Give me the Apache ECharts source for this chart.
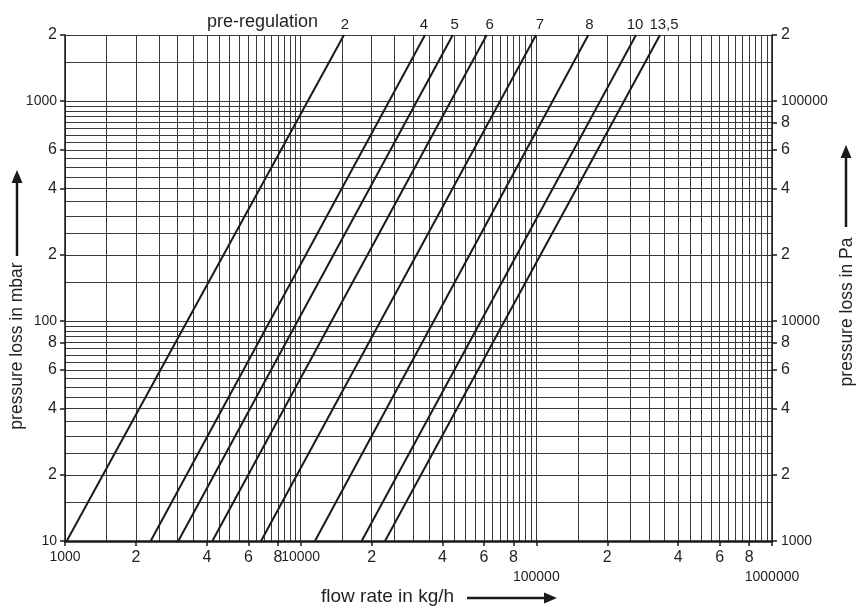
<!DOCTYPE html>
<html>
<head>
<meta charset="utf-8">
<script src="https://cdn.jsdelivr.net/npm/echarts@6/dist/echarts.min.js"></script>
<style>
  html, body { margin: 0; padding: 0; background: #fff; }
  #chart { width: 865px; height: 608px; }
</style>
</head>
<body>
<div id="chart"></div>
<script>
// pre-regulation curves: flow (kg/h) where each line meets 10 mbar and 2000 mbar
var settings = ["2", "4", "5", "6", "7", "8", "10", "13,5"];
var flowAt10 = [1017, 2310, 3025, 4220, 6790, 11500, 18150, 22800];
var flowAt2000 = [15270, 33700, 44200, 61560, 99700, 166200, 264800, 334700];
var pressureEnds = [10, 2000];

// labelled ticks
var flowTicks = [1000, 2000, 4000, 6000, 8000, 10000, 20000, 40000, 60000, 80000,
  100000, 200000, 400000, 600000, 800000, 1000000];
var mbarTicks = [10, 20, 40, 60, 80, 100, 200, 400, 600, 1000, 2000];
var paTicks = [10, 20, 40, 60, 80, 100, 200, 400, 600, 800, 1000, 2000]; // mbar, shown in Pa

// grid lines every half unit in each decade
var flowGrid = [];
[1000, 10000, 100000].forEach(function (d) {
  for (var m = 2; m < 20; m++) flowGrid.push(d * m / 2);
});
flowGrid.push(1000000);
var pressureGrid = [];
[10, 100].forEach(function (d) {
  for (var m = 2; m < 20; m++) pressureGrid.push(d * m / 2);
});
pressureGrid.push(1000, 1500, 2000);

var textColor = "#231f20";
var font = "Liberation Sans";
// small horizontal nudge of the setting labels above the line ends
var labelNudge = [1, -1, 2, 3, 4, 1, -1, 4];

function mant(v) {
  var e = Math.floor(Math.log10(v) + 1e-9);
  return Math.round(v / Math.pow(10, e));
}

var richLabels = {
  dec: { fontSize: 14, color: textColor, fontFamily: font },
  low: { fontSize: 14, color: textColor, fontFamily: font, padding: [20, 0, 0, 0] },
  d: { fontSize: 16, color: textColor, fontFamily: font }
};

var series = settings.map(function (name, i) {
  return {
    type: "line",
    name: name,
    xAxisIndex: 0,
    yAxisIndex: 0,
    symbol: "circle",
    symbolSize: 0,
    showSymbol: true,
    lineStyle: { color: "#1a1a1a", width: 2 },
    itemStyle: { color: "#1a1a1a" },
    data: [
      [flowAt10[i], pressureEnds[0]],
      {
        value: [flowAt2000[i], pressureEnds[1]],
        label: {
          show: true,
          formatter: name,
          position: "top",
          distance: 3,
          offset: [labelNudge[i], 0],
          fontSize: 15,
          fontFamily: font,
          color: textColor
        }
      }
    ]
  };
});

var chart = echarts.init(document.getElementById("chart"));
chart.setOption({
  animation: false,
  backgroundColor: "#fff",
  grid: { left: 65, right: 93, top: 35, bottom: 67, containLabel: false, outerBoundsMode: "none" },
  xAxis: [
    {
      type: "log", min: 1000, max: 1000000, position: "bottom",
      axisLine: { show: true, lineStyle: { color: "#1a1a1a", width: 2.5 } },
      axisTick: { show: true, length: 5, customValues: flowTicks, lineStyle: { color: "#1a1a1a", width: 1.5 } },
      axisLabel: {
        show: true, margin: 9, customValues: flowTicks, rich: richLabels,
        formatter: function (v) {
          var m = mant(v);
          if (m === 1) return v >= 100000 ? "{low|" + v + "}" : "{dec|" + v + "}";
          return "{d|" + m + "}";
        }
      },
      splitLine: { show: false },
      minorTick: { show: false }
    },
    {
      type: "log", min: 1000, max: 1000000, position: "top",
      axisLine: { show: false },
      axisTick: { show: false, customValues: flowGrid },
      axisLabel: { show: false },
      splitLine: { show: true, lineStyle: { color: "#3a3a3a", width: 1 } }
    }
  ],
  yAxis: [
    {
      type: "log", min: 10, max: 2000, position: "left",
      axisLine: { show: true, lineStyle: { color: "#1a1a1a", width: 1.5 } },
      axisTick: { show: true, length: 5, customValues: mbarTicks, lineStyle: { color: "#1a1a1a", width: 1.5 } },
      axisLabel: {
        show: true, margin: 8, customValues: mbarTicks, rich: richLabels,
        formatter: function (v) {
          var m = mant(v);
          return m === 1 ? "{dec|" + v + "}" : "{d|" + m + "}";
        }
      },
      splitLine: { show: false }
    },
    {
      type: "log", min: 10, max: 2000, position: "right",
      axisLine: { show: true, lineStyle: { color: "#1a1a1a", width: 1.5 } },
      axisTick: { show: true, length: 5, customValues: paTicks, lineStyle: { color: "#1a1a1a", width: 1.5 } },
      axisLabel: {
        show: true, margin: 9, customValues: paTicks, rich: richLabels,
        formatter: function (v) {
          var m = mant(v);
          return m === 1 ? "{dec|" + Math.round(v * 100) + "}" : "{d|" + m + "}";
        }
      },
      splitLine: { show: false }
    },
    {
      type: "log", min: 10, max: 2000, position: "right",
      axisLine: { show: false },
      axisTick: { show: false, customValues: pressureGrid },
      axisLabel: { show: false },
      splitLine: { show: true, lineStyle: { color: "#3a3a3a", width: 1 } }
    }
  ],
  graphic: [
    {
      type: "text", x: 207, y: 22,
      style: { text: "pre-regulation", fontSize: 18, fontFamily: font, fill: textColor, align: "left", verticalAlign: "middle" }
    },
    {
      type: "text", x: 321, y: 597,
      style: { text: "flow rate in kg/h", fontSize: 19, fontFamily: font, fill: textColor, align: "left", verticalAlign: "middle" }
    },
    { type: "line", shape: { x1: 467, y1: 598, x2: 546, y2: 598 }, style: { stroke: "#1a1a1a", lineWidth: 2.5 } },
    { type: "polygon", shape: { points: [[544, 592.5], [557, 598], [544, 603.5]] }, style: { fill: "#1a1a1a" } },
    {
      type: "text", x: 17.5, y: 346, rotation: Math.PI / 2,
      style: { text: "pressure loss in mbar", fontSize: 17.5, fontFamily: font, fill: textColor, align: "center", verticalAlign: "middle" }
    },
    { type: "line", shape: { x1: 17, y1: 256, x2: 17, y2: 181 }, style: { stroke: "#1a1a1a", lineWidth: 2.5 } },
    { type: "polygon", shape: { points: [[11.5, 183], [17, 170], [22.5, 183]] }, style: { fill: "#1a1a1a" } },
    {
      type: "text", x: 847, y: 312, rotation: Math.PI / 2,
      style: { text: "pressure loss in Pa", fontSize: 17.5, fontFamily: font, fill: textColor, align: "center", verticalAlign: "middle" }
    },
    { type: "line", shape: { x1: 846, y1: 227, x2: 846, y2: 156 }, style: { stroke: "#1a1a1a", lineWidth: 2.5 } },
    { type: "polygon", shape: { points: [[840.5, 158], [846, 145], [851.5, 158]] }, style: { fill: "#1a1a1a" } }
  ],
  series: series
});
</script>
</body>
</html>
